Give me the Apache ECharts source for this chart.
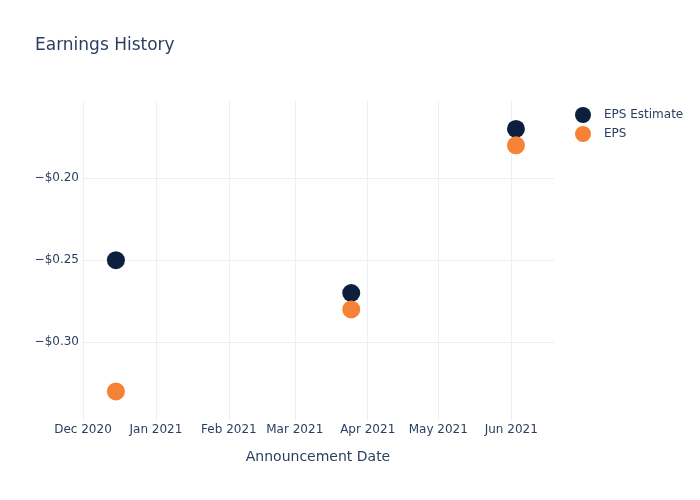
<!DOCTYPE html>
<html>
<head>
<meta charset="utf-8">
<script src="https://cdn.jsdelivr.net/npm/echarts@6/dist/echarts.min.js"></script>
<style>html,body{margin:0;padding:0;background:#fff}#chart{width:700px;height:500px}</style>
</head>
<body>
<div id="chart"></div>
<script>
var dates = ['2020-12-15', '2021-03-25', '2021-06-03'];
var epsEstimate = [-0.25, -0.27, -0.17];
var eps = [-0.33, -0.28, -0.18];
var monthNames = ['Jan','Feb','Mar','Apr','May','Jun','Jul','Aug','Sep','Oct','Nov','Dec'];

var font = 'DejaVu Sans, sans-serif';
var textColor = '#2a3f5f';
var gridColor = '#ebf0f8';

function pairs(xs, ys) { return xs.map(function (d, i) { return [d, ys[i]]; }); }

var chart = echarts.init(document.getElementById('chart'));
chart.setOption({
  animation: false,
  backgroundColor: '#fff',
  textStyle: { fontFamily: font },
  title: {
    text: 'Earnings History', left: 35, top: 37, padding: 0,
    textStyle: { fontFamily: font, fontSize: 17, fontWeight: 'normal', color: textColor }
  },
  legend: {
    orient: 'vertical', left: 575, top: 107, padding: 0, itemWidth: 16, itemHeight: 16, itemGap: 3,
    icon: 'circle',
    textStyle: { fontFamily: font, fontSize: 12, color: textColor, padding: [0, 0, 0, 8] },
    data: ['EPS Estimate', 'EPS']
  },
  grid: { left: 82, right: 146, top: 101, bottom: 79 },
  xAxis: {
    type: 'time',
    min: '2020-11-30 14:00', max: '2021-06-19 04:00',
    splitNumber: 7,
    minInterval: 28 * 864e5, maxInterval: 31 * 864e5,
    axisLine: { show: false }, axisTick: { show: false },
    splitLine: { show: true, showMinLine: false, showMaxLine: false, lineStyle: { color: gridColor, width: 1 } },
    axisLabel: {
      fontFamily: font, fontSize: 12, color: textColor, margin: 3,
      formatter: function (v) { var d = new Date(v); return monthNames[d.getMonth()] + ' ' + d.getFullYear(); }
    },
    name: 'Announcement Date', nameLocation: 'middle', nameGap: 29,
    nameTextStyle: { fontFamily: font, fontSize: 14, color: textColor }
  },
  yAxis: {
    type: 'value',
    min: -0.348, max: -0.153, splitNumber: 4,
    axisLine: { show: false }, axisTick: { show: false },
    splitLine: { show: true, showMinLine: false, showMaxLine: false, lineStyle: { color: gridColor, width: 1 } },
    axisLabel: {
      fontFamily: font, fontSize: 12, color: textColor, margin: 3,
      showMinLabel: false, showMaxLabel: false,
      formatter: function (v) { return (v < 0 ? '\u2212' : '') + '$' + Math.abs(v).toFixed(2); }
    }
  },
  series: [
    { name: 'EPS Estimate', type: 'scatter', symbolSize: 18, itemStyle: { color: '#0c1f3f', opacity: 1 }, data: pairs(dates, epsEstimate) },
    { name: 'EPS', type: 'scatter', symbolSize: 18, itemStyle: { color: '#f58235', opacity: 1 }, data: pairs(dates, eps) }
  ]
});
</script>
</body>
</html>
